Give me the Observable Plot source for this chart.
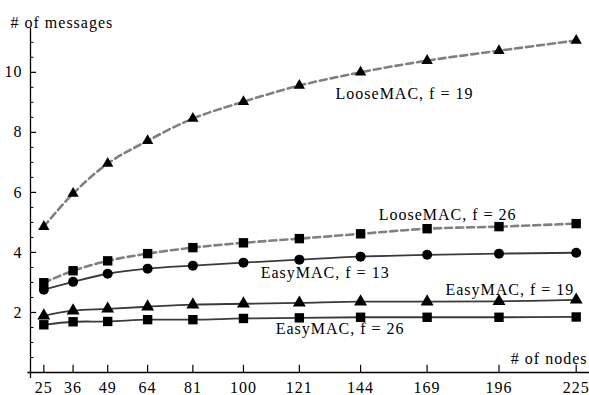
<!DOCTYPE html>
<html>
<head>
<meta charset="utf-8">
<script src="https://cdn.jsdelivr.net/npm/d3@7"></script>
<script src="https://cdn.jsdelivr.net/npm/@observablehq/plot@0.6"></script>
<style>
  html, body { margin: 0; padding: 0; background: white; font-family: "Liberation Serif", "Times New Roman", serif; }
</style>
</head>
<body>
<div id="chart"></div>
<script>
const nodes = [25, 36, 49, 64, 81, 100, 121, 144, 169, 196, 225];
const looseF19 = [4.86, 5.96, 6.96, 7.72, 8.46, 9.02, 9.56, 10.0, 10.39, 10.72, 11.06];
const looseF26 = [2.99, 3.39, 3.72, 3.96, 4.16, 4.32, 4.46, 4.62, 4.79, 4.86, 4.96];
const easyF13 = [2.76, 3.02, 3.29, 3.46, 3.56, 3.66, 3.76, 3.86, 3.92, 3.96, 3.99];
const easyF19 = [1.89, 2.06, 2.12, 2.19, 2.26, 2.29, 2.32, 2.36, 2.36, 2.37, 2.42];
const easyF26 = [1.59, 1.69, 1.70, 1.76, 1.76, 1.80, 1.82, 1.84, 1.84, 1.84, 1.85];

const seriesNames = ["LooseMAC, f = 19", "LooseMAC, f = 26", "EasyMAC, f = 13", "EasyMAC, f = 19", "EasyMAC, f = 26"];
const seriesValues = [looseF19, looseF26, easyF13, easyF19, easyF26];
const seriesSymbols = ["triangle", "square", "circle", "triangle", "square"];
const seriesDashed = [true, true, false, false, false];

const yMajorTicks = [2, 4, 6, 8, 10];
const yMinorTicks = d3.range(0.5, 11.5, 0.5).filter(v => !yMajorTicks.includes(v));

const xLabel = "# of nodes";
const yLabel = "# of messages";

// annotation anchor points (data units)
const labelX = [160.5, 176.7, 130.7, 200.1, 136.3];
const labelY = [9.29, 5.26, 3.32, 2.76, 1.46];

const rows = seriesNames.flatMap((name, i) =>
  nodes.map((n, j) => ({series: name, x: n, y: seriesValues[i][j], symbol: seriesSymbols[i], dashed: seriesDashed[i]}))
);
const labels = seriesNames.map((name, i) => ({text: name, x: labelX[i], y: labelY[i]}));

const dashedRows = rows.filter(d => d.dashed);
const solidRows = rows.filter(d => !d.dashed);

const FONT = "Liberation Serif, Times New Roman, serif";
const txt = {fill: "black", fontSize: 16, fontFamily: FONT};

const chart = Plot.plot({
  width: 589,
  height: 395,
  marginLeft: 30,
  marginRight: 0,
  marginTop: 28,
  marginBottom: 23,
  x: {domain: [20, 230], axis: null},
  y: {domain: [0, 11.46], axis: null},
  style: {background: "white", color: "black", fontFamily: FONT, fontSize: "16px"},
  marks: [
    // axes lines
    Plot.ruleY([0], {x1: 19, x2: 230, stroke: "black", strokeWidth: 1.3, clip: false}),
    Plot.ruleX([20], {y1: -0.2, y2: 11.46, stroke: "black", strokeWidth: 1.3, clip: false}),
    // x ticks
    Plot.ruleX(nodes, {x: d => d, y1: 0, y2: 0.24, stroke: "black", strokeWidth: 1.2}),
    Plot.text(nodes, {x: d => d, y: 0, dy: 15, text: d => String(d), ...txt}),
    // y ticks
    Plot.ruleY(yMajorTicks, {y: d => d, x1: 20, x2: 22.3, stroke: "black", strokeWidth: 1.2}),
    Plot.ruleY(yMinorTicks, {y: d => d, x1: 20, x2: 21.3, stroke: "black", strokeWidth: 1}),
    Plot.text(yMajorTicks, {x: 20, y: d => d, dx: -8, textAnchor: "end", text: d => String(d), ...txt}),
    // axis labels
    Plot.text([yLabel], {frameAnchor: "top-left", dx: -20, dy: -12, textAnchor: "start", text: d => d, ...txt}),
    Plot.text([xLabel], {x: 230, y: 0, dx: -2, dy: -14, textAnchor: "end", text: d => d, ...txt}),
    // lines
    Plot.line(dashedRows, {x: "x", y: "y", z: "series", stroke: "#808080", strokeWidth: 2.6, strokeDasharray: "7,4", curve: "catmull-rom"}),
    Plot.line(solidRows, {x: "x", y: "y", z: "series", stroke: "#3a3a3a", strokeWidth: 1.8, curve: "catmull-rom"}),
    // markers
    Plot.dot(rows.filter(d => d.series === "LooseMAC, f = 19"), {x: "x", y: "y", symbol: "triangle", r: 4.2, fill: "black", stroke: "none"}),
    Plot.dot(rows.filter(d => d.series === "EasyMAC, f = 19"), {x: "x", y: "y", symbol: "triangle", r: 4.8, fill: "black", stroke: "none"}),
    Plot.dot(rows.filter(d => d.symbol === "square"), {x: "x", y: "y", symbol: "square", r: 5.3, fill: "black", stroke: "none"}),
    Plot.dot(rows.filter(d => d.symbol === "circle"), {x: "x", y: "y", symbol: "circle", r: 5.0, fill: "black", stroke: "none"}),
    // series labels
    Plot.text(labels, {x: "x", y: "y", text: "text", ...txt})
  ]
});
chart.querySelectorAll("text").forEach(t => {
  t.setAttribute("font-family", FONT);
  t.setAttribute("letter-spacing", "1");
});
document.getElementById("chart").appendChild(chart);
</script>
</body>
</html>
